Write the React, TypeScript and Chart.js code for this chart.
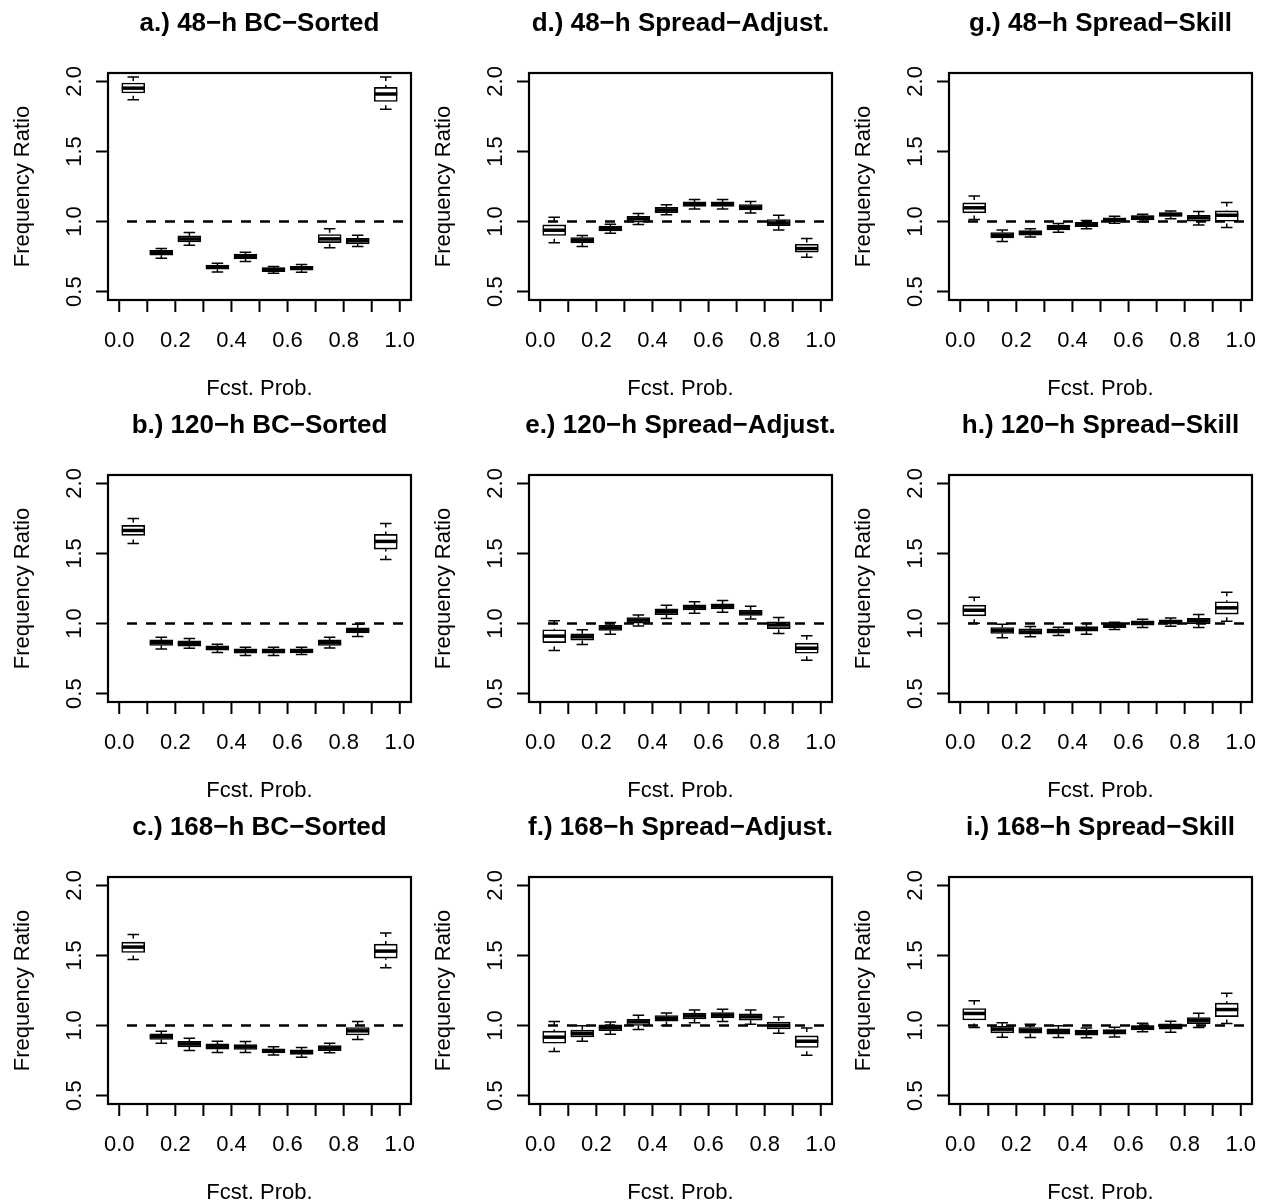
import React, { useEffect, useRef } from "react";
import { Chart, registerables } from "chart.js";
Chart.register(...registerables);

// Forecast-probability bin centres (10 bins)
const binCenters = [0.05, 0.15, 0.25, 0.35, 0.45, 0.55, 0.65, 0.75, 0.85, 0.95];
const xTickValues = [0, 0.1, 0.2, 0.3, 0.4, 0.5, 0.6, 0.7, 0.8, 0.9, 1.0];
const xTickLabels = ["0.0", "", "0.2", "", "0.4", "", "0.6", "", "0.8", "", "1.0"];
const yTickValues = [0.5, 1.0, 1.5, 2.0];
const yTickLabels = ["0.5", "1.0", "1.5", "2.0"];
const xAxisTitle = "Fcst. Prob.";
const yAxisTitle = "Frequency Ratio";
const refValue = 1.0;

// a.) 48-h BC-Sorted
const a_hi = [2.031, 0.807, 0.921, 0.702, 0.781, 0.679, 0.693, 0.948, 0.902, 2.031];
const a_q3 = [1.988, 0.795, 0.898, 0.690, 0.767, 0.671, 0.681, 0.907, 0.881, 1.957];
const a_med = [1.952, 0.779, 0.876, 0.676, 0.750, 0.657, 0.667, 0.876, 0.862, 1.910];
const a_q1 = [1.917, 0.760, 0.855, 0.660, 0.733, 0.643, 0.652, 0.850, 0.840, 1.857];
const a_lo = [1.869, 0.738, 0.831, 0.640, 0.714, 0.631, 0.638, 0.812, 0.821, 1.802];

// d.) 48-h Spread-Adjust.
const d_hi = [1.031, 0.900, 0.981, 1.057, 1.119, 1.157, 1.157, 1.143, 1.045, 0.879];
const d_q3 = [0.976, 0.886, 0.967, 1.038, 1.102, 1.140, 1.140, 1.121, 1.014, 0.838];
const d_med = [0.938, 0.867, 0.950, 1.019, 1.083, 1.124, 1.124, 1.102, 0.990, 0.807];
const d_q1 = [0.900, 0.848, 0.933, 0.995, 1.064, 1.107, 1.107, 1.083, 0.971, 0.781];
const d_lo = [0.848, 0.821, 0.917, 0.979, 1.048, 1.090, 1.090, 1.060, 0.940, 0.745];

// g.) 48-h Spread-Skill
const g_hi = [1.183, 0.940, 0.948, 0.986, 1.007, 1.038, 1.052, 1.076, 1.071, 1.136];
const g_q3 = [1.133, 0.921, 0.936, 0.974, 0.995, 1.026, 1.043, 1.064, 1.045, 1.076];
const g_med = [1.098, 0.902, 0.919, 0.957, 0.979, 1.012, 1.029, 1.050, 1.026, 1.045];
const g_q1 = [1.062, 0.883, 0.902, 0.940, 0.964, 0.998, 1.012, 1.036, 1.002, 1.002];
const g_lo = [1.014, 0.857, 0.890, 0.924, 0.948, 0.988, 0.998, 1.019, 0.976, 0.957];

// b.) 120-h BC-Sorted
const b_hi = [1.750, 0.902, 0.893, 0.852, 0.831, 0.831, 0.831, 0.902, 0.995, 1.714];
const b_q3 = [1.700, 0.883, 0.876, 0.840, 0.819, 0.819, 0.819, 0.883, 0.969, 1.636];
const b_med = [1.664, 0.864, 0.857, 0.826, 0.802, 0.802, 0.805, 0.864, 0.952, 1.586];
const b_q1 = [1.629, 0.843, 0.838, 0.810, 0.788, 0.788, 0.790, 0.843, 0.933, 1.531];
const b_lo = [1.571, 0.819, 0.824, 0.793, 0.771, 0.771, 0.779, 0.826, 0.907, 1.457];

// e.) 120-h Spread-Adjust.
const e_hi = [1.019, 0.955, 1.007, 1.060, 1.131, 1.155, 1.164, 1.124, 1.043, 0.912];
const e_q3 = [0.955, 0.926, 0.988, 1.043, 1.105, 1.133, 1.140, 1.095, 1.012, 0.860];
const e_med = [0.910, 0.905, 0.969, 1.024, 1.086, 1.117, 1.124, 1.076, 0.990, 0.824];
const e_q1 = [0.864, 0.881, 0.950, 1.002, 1.064, 1.098, 1.105, 1.057, 0.964, 0.788];
const e_lo = [0.807, 0.850, 0.924, 0.983, 1.036, 1.074, 1.081, 1.033, 0.929, 0.738];

// h.) 120-h Spread-Skill
const h_hi = [1.188, 0.995, 0.979, 0.974, 1.000, 1.010, 1.031, 1.040, 1.064, 1.224];
const h_q3 = [1.131, 0.971, 0.962, 0.962, 0.979, 1.002, 1.019, 1.026, 1.038, 1.155];
const h_med = [1.095, 0.950, 0.940, 0.948, 0.962, 0.988, 1.005, 1.012, 1.019, 1.112];
const h_q1 = [1.055, 0.929, 0.924, 0.931, 0.945, 0.971, 0.988, 0.995, 0.998, 1.067];
const h_lo = [1.002, 0.898, 0.905, 0.914, 0.924, 0.957, 0.971, 0.981, 0.971, 1.017];

// c.) 168-h BC-Sorted
const c_hi = [1.650, 0.960, 0.910, 0.888, 0.886, 0.848, 0.843, 0.874, 1.029, 1.660];
const c_q3 = [1.595, 0.940, 0.888, 0.869, 0.864, 0.833, 0.826, 0.857, 0.986, 1.581];
const c_med = [1.560, 0.921, 0.869, 0.850, 0.848, 0.819, 0.810, 0.840, 0.962, 1.531];
const c_q1 = [1.521, 0.900, 0.848, 0.831, 0.829, 0.805, 0.793, 0.821, 0.933, 1.481];
const c_lo = [1.471, 0.874, 0.821, 0.807, 0.807, 0.790, 0.774, 0.805, 0.900, 1.412];

// f.) 168-h Spread-Adjust.
const f_hi = [1.029, 0.998, 1.026, 1.074, 1.090, 1.110, 1.117, 1.110, 1.060, 0.983];
const f_q3 = [0.960, 0.967, 1.005, 1.045, 1.071, 1.088, 1.093, 1.083, 1.024, 0.926];
const f_med = [0.917, 0.943, 0.986, 1.026, 1.052, 1.069, 1.074, 1.062, 1.000, 0.888];
const f_q1 = [0.874, 0.919, 0.964, 1.000, 1.031, 1.048, 1.055, 1.038, 0.976, 0.843];
const f_lo = [0.814, 0.888, 0.938, 0.971, 1.000, 1.019, 1.029, 1.010, 0.945, 0.788];

// i.) 168-h Spread-Skill
const i_hi = [1.176, 1.019, 1.010, 0.998, 0.983, 0.988, 1.017, 1.031, 1.088, 1.231];
const i_q3 = [1.121, 0.995, 0.986, 0.976, 0.967, 0.971, 1.000, 1.012, 1.057, 1.160];
const i_med = [1.086, 0.974, 0.964, 0.957, 0.950, 0.955, 0.986, 0.993, 1.038, 1.114];
const i_q1 = [1.040, 0.948, 0.945, 0.938, 0.931, 0.938, 0.969, 0.974, 1.014, 1.064];
const i_lo = [0.986, 0.917, 0.914, 0.914, 0.912, 0.919, 0.955, 0.952, 0.986, 1.014];

type PanelDef = {
  title: string; row: number; col: number;
  lo: number[]; q1: number[]; med: number[]; q3: number[]; hi: number[];
};

const panels: PanelDef[] = [
  { title: "a.) 48\u2212h BC\u2212Sorted", row: 0, col: 0, lo: a_lo, q1: a_q1, med: a_med, q3: a_q3, hi: a_hi },
  { title: "d.) 48\u2212h Spread\u2212Adjust.", row: 0, col: 1, lo: d_lo, q1: d_q1, med: d_med, q3: d_q3, hi: d_hi },
  { title: "g.) 48\u2212h Spread\u2212Skill", row: 0, col: 2, lo: g_lo, q1: g_q1, med: g_med, q3: g_q3, hi: g_hi },
  { title: "b.) 120\u2212h BC\u2212Sorted", row: 1, col: 0, lo: b_lo, q1: b_q1, med: b_med, q3: b_q3, hi: b_hi },
  { title: "e.) 120\u2212h Spread\u2212Adjust.", row: 1, col: 1, lo: e_lo, q1: e_q1, med: e_med, q3: e_q3, hi: e_hi },
  { title: "h.) 120\u2212h Spread\u2212Skill", row: 1, col: 2, lo: h_lo, q1: h_q1, med: h_med, q3: h_q3, hi: h_hi },
  { title: "c.) 168\u2212h BC\u2212Sorted", row: 2, col: 0, lo: c_lo, q1: c_q1, med: c_med, q3: c_q3, hi: c_hi },
  { title: "f.) 168\u2212h Spread\u2212Adjust.", row: 2, col: 1, lo: f_lo, q1: f_q1, med: f_med, q3: f_q3, hi: f_hi },
  { title: "i.) 168\u2212h Spread\u2212Skill", row: 2, col: 2, lo: i_lo, q1: i_q1, med: i_med, q3: i_q3, hi: i_hi },
];

const FONT = '"Liberation Sans", Arial, Helvetica, sans-serif';
const PW = 421;
const PH = 402;
const colOffsets = [0, 421, 841];
const rowOffsets = [0, 402, 804];
const BOX_W = 23;

function Panel({ p }: { p: PanelDef }) {
  const ref = useRef<HTMLCanvasElement>(null);
  useEffect(() => {
    const canvas = ref.current!;
    const rPlugin = {
      id: "rstyle",
      afterDatasetsDraw(chart: any) {
        const { ctx, chartArea: ca } = chart;
        const x = chart.scales.x;
        const y = chart.scales.y;
        ctx.save();
        ctx.strokeStyle = "#000";
        ctx.fillStyle = "#000";
        // whiskers and caps
        for (let k = 0; k < binCenters.length; k++) {
          const px = x.getPixelForValue(binCenters[k]);
          ctx.lineWidth = 1.5;
          ctx.setLineDash([4, 4]);
          ctx.beginPath();
          ctx.moveTo(px, y.getPixelForValue(p.hi[k]));
          ctx.lineTo(px, y.getPixelForValue(p.q3[k]));
          ctx.moveTo(px, y.getPixelForValue(p.lo[k]));
          ctx.lineTo(px, y.getPixelForValue(p.q1[k]));
          ctx.stroke();
          ctx.setLineDash([]);
          ctx.beginPath();
          const cw = BOX_W / 4;
          ctx.moveTo(px - cw, y.getPixelForValue(p.hi[k]));
          ctx.lineTo(px + cw, y.getPixelForValue(p.hi[k]));
          ctx.moveTo(px - cw, y.getPixelForValue(p.lo[k]));
          ctx.lineTo(px + cw, y.getPixelForValue(p.lo[k]));
          ctx.stroke();
          // median
          ctx.lineWidth = 3.5;
          ctx.beginPath();
          ctx.moveTo(px - BOX_W / 2, y.getPixelForValue(p.med[k]));
          ctx.lineTo(px + BOX_W / 2, y.getPixelForValue(p.med[k]));
          ctx.stroke();
        }
        // reference line
        ctx.lineWidth = 2.5;
        ctx.setLineDash([10, 9]);
        ctx.lineDashOffset = 0;
        const ry = y.getPixelForValue(refValue);
        ctx.beginPath();
        ctx.moveTo(ca.left + 19, ry);
        ctx.lineTo(ca.right, ry);
        ctx.stroke();
        ctx.setLineDash([]);
        // frame
        ctx.lineWidth = 2.2;
        ctx.strokeRect(ca.left, ca.top, ca.right - ca.left, ca.bottom - ca.top);
        // ticks
        ctx.lineWidth = 2;
        ctx.beginPath();
        for (const v of xTickValues) {
          const px = x.getPixelForValue(v);
          ctx.moveTo(px, ca.bottom);
          ctx.lineTo(px, ca.bottom + 12);
        }
        for (const v of yTickValues) {
          const py = y.getPixelForValue(v);
          ctx.moveTo(ca.left, py);
          ctx.lineTo(ca.left - 12, py);
        }
        ctx.stroke();
        // tick labels
        ctx.font = `22px ${FONT}`;
        ctx.textAlign = "center";
        ctx.textBaseline = "alphabetic";
        xTickValues.forEach((v, k) => {
          if (xTickLabels[k]) ctx.fillText(xTickLabels[k], x.getPixelForValue(v), 347);
        });
        yTickValues.forEach((v, k) => {
          ctx.save();
          ctx.translate(80.5, y.getPixelForValue(v));
          ctx.rotate(-Math.PI / 2);
          ctx.fillText(yTickLabels[k], 0, 0);
          ctx.restore();
        });
        // axis titles
        ctx.fillText(xAxisTitle, (ca.left + ca.right) / 2, 395);
        ctx.save();
        ctx.translate(29, (ca.top + ca.bottom) / 2);
        ctx.rotate(-Math.PI / 2);
        ctx.fillText(yAxisTitle, 0, 0);
        ctx.restore();
        // main title
        ctx.font = `bold 26px ${FONT}`;
        ctx.fillText(p.title, (ca.left + ca.right) / 2, 31);
        ctx.restore();
      },
    };
    const chart = new Chart(canvas, {
      type: "bar",
      data: {
        datasets: [
          {
            data: binCenters.map((c, k) => ({ x: c, y: [p.q1[k], p.q3[k]] })) as any,
            backgroundColor: "#ffffff",
            borderColor: "#000000",
            borderWidth: 1.6,
            borderSkipped: false,
            barThickness: BOX_W,
          },
        ],
      },
      options: {
        responsive: false,
        maintainAspectRatio: false,
        animation: false,
        layout: { padding: { left: 108, right: 10, top: 73, bottom: 102 } },
        scales: {
          x: { type: "linear", min: -0.04, max: 1.04, offset: false, display: false },
          y: { type: "linear", min: 0.44, max: 2.06, display: false },
        },
        plugins: { legend: { display: false }, tooltip: { enabled: false }, title: { display: false } },
      },
      plugins: [rPlugin],
    });
    return () => chart.destroy();
  }, [p]);
  return (
    <div style={{ position: "absolute", left: colOffsets[p.col], top: rowOffsets[p.row], width: PW, height: PH }}>
      <canvas ref={ref} width={PW} height={PH} style={{ display: "block" }} />
    </div>
  );
}

export default function App() {
  return (
    <div style={{ position: "fixed", left: 0, top: 0, width: 1265, height: 1203, overflow: "hidden", background: "#fff" }}>
      {panels.map((p) => (
        <Panel key={p.title} p={p} />
      ))}
    </div>
  );
}
